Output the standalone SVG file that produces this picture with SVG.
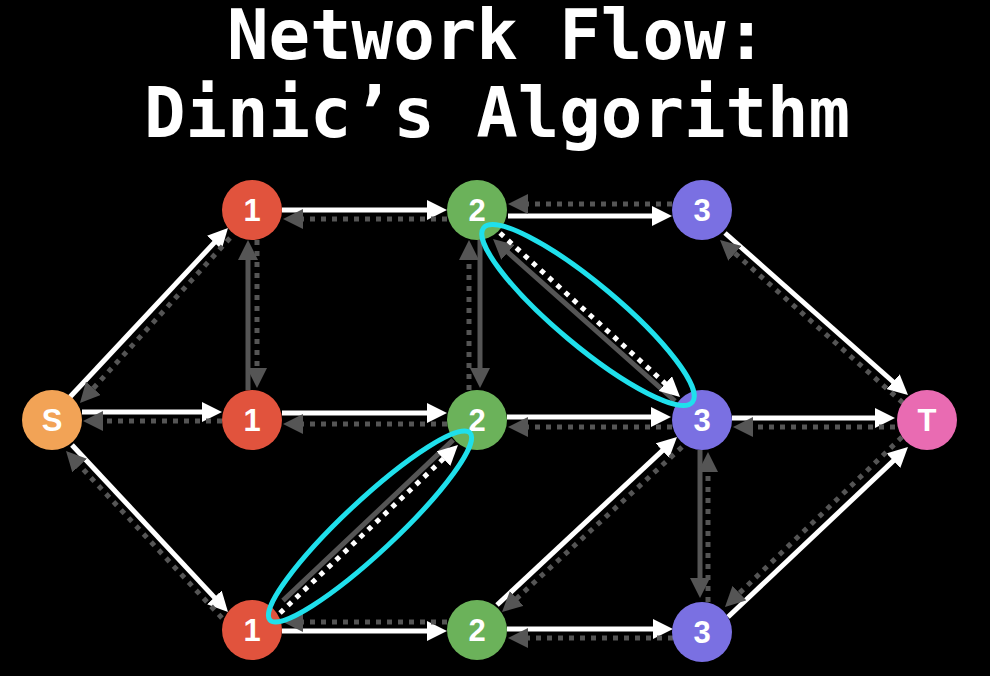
<svg xmlns="http://www.w3.org/2000/svg" width="990" height="676" viewBox="0 0 990 676">
<defs>
<style>
.title{font-family:"DejaVu Sans Mono","Liberation Mono",monospace;font-weight:bold;font-size:69px;fill:#fff;text-anchor:middle}
.lbl{font-family:"Liberation Sans",Arial,sans-serif;font-weight:bold;font-size:31px;fill:#fff;text-anchor:middle}
.w{stroke:#fff;stroke-width:5;fill:none;marker-end:url(#aw)}
.wd{stroke:#fff;stroke-width:5;fill:none;stroke-dasharray:5 6;marker-end:url(#aw)}
.g{stroke:#555;stroke-width:5;fill:none;marker-end:url(#ag)}
.gs{stroke:#555;stroke-width:5;fill:none}
.gd{stroke:#555;stroke-width:5;fill:none;stroke-dasharray:5 6;marker-end:url(#ag)}
.hl{fill:none;stroke:#1FE0EC;stroke-width:5}
</style>
<marker id="aw" markerUnits="userSpaceOnUse" viewBox="0 0 20 20" markerWidth="20" markerHeight="20" refX="14" refY="10" orient="auto"><path d="M0,0 L20,10 L0,20 z" fill="#fff"/></marker>
<marker id="ag" markerUnits="userSpaceOnUse" viewBox="0 0 20 20" markerWidth="20" markerHeight="20" refX="14" refY="10" orient="auto"><path d="M0,0 L20,10 L0,20 z" fill="#555"/></marker>
</defs>
<rect width="990" height="676" fill="#000"/>
<text class="title" x="497" y="59">Network Flow:</text>
<text class="title" x="497" y="137">Dinic’s Algorithm</text>
<g id="connectors">
<line class="w" x1="70" y1="397" x2="223.9" y2="232.4"/>
<line class="gd" x1="230" y1="238" x2="84" y2="398.6"/>
<line class="w" x1="82" y1="412" x2="216" y2="412"/>
<line class="gd" x1="222" y1="421" x2="89" y2="421"/>
<line class="w" x1="72" y1="445" x2="223.9" y2="607.6"/>
<line class="gd" x1="222" y1="618" x2="70.1" y2="455.4"/>
<line class="w" x1="282" y1="210" x2="441" y2="210"/>
<line class="gd" x1="447" y1="219" x2="289" y2="219"/>
<line class="w" x1="282" y1="413" x2="441" y2="413"/>
<line class="gd" x1="447" y1="424" x2="289" y2="424"/>
<line class="w" x1="282" y1="631" x2="441" y2="631"/>
<line class="gd" x1="447" y1="622" x2="289" y2="622"/>
<line class="g" x1="248" y1="390" x2="248" y2="246"/>
<line class="gd" x1="257" y1="240" x2="257" y2="382"/>
<line class="g" x1="480" y1="240" x2="480" y2="382"/>
<line class="gd" x1="469" y1="390" x2="469" y2="246"/>
<line class="g" x1="700" y1="450" x2="700" y2="592"/>
<line class="gd" x1="708" y1="602" x2="708" y2="458"/>
<line class="w" x1="508" y1="216" x2="666" y2="216"/>
<line class="gd" x1="672" y1="204" x2="514" y2="204"/>
<line class="w" x1="507" y1="417" x2="665" y2="417"/>
<line class="gd" x1="672" y1="427" x2="514" y2="427"/>
<line class="w" x1="507" y1="629" x2="667" y2="629"/>
<line class="gd" x1="673" y1="638" x2="514" y2="638"/>
<line class="w" x1="725" y1="233" x2="903.5" y2="391"/>
<line class="gd" x1="903" y1="403" x2="724.5" y2="244"/>
<line class="w" x1="732" y1="418" x2="889" y2="418"/>
<line class="gd" x1="895" y1="427" x2="739" y2="427"/>
<line class="w" x1="728" y1="617" x2="903.6" y2="451.1"/>
<line class="gd" x1="902" y1="437" x2="729.3" y2="602.8"/>
<line class="w" x1="497" y1="605" x2="672.6" y2="441.1"/>
<line class="gd" x1="682" y1="447" x2="506.4" y2="607.9"/>
<line class="gs" x1="453.2" y1="439.9" x2="283" y2="600.6"/>
<line class="wd" x1="280" y1="613" x2="453.6" y2="449.1"/>
<line class="g" x1="675" y1="401" x2="497.5" y2="243"/>
<line class="wd" x1="500" y1="233" x2="675.6" y2="393"/>
</g>
<g id="node-S"><circle cx="52" cy="420" r="30" fill="#F2A356"/><text class="lbl" x="52" y="431">S</text></g>
<g id="node-1a"><circle cx="252" cy="210" r="30" fill="#E1533D"/><text class="lbl" x="252" y="221">1</text></g>
<g id="node-1b"><circle cx="252" cy="420" r="30" fill="#E1533D"/><text class="lbl" x="252" y="431">1</text></g>
<g id="node-1c"><circle cx="252" cy="630" r="30" fill="#E1533D"/><text class="lbl" x="252" y="641">1</text></g>
<g id="node-2a"><circle cx="477" cy="210" r="30" fill="#6BB25A"/><text class="lbl" x="477" y="221">2</text></g>
<g id="node-2b"><circle cx="477" cy="420" r="30" fill="#6BB25A"/><text class="lbl" x="477" y="431">2</text></g>
<g id="node-2c"><circle cx="477" cy="630" r="30" fill="#6BB25A"/><text class="lbl" x="477" y="641">2</text></g>
<g id="node-3a"><circle cx="702" cy="210" r="30" fill="#7A70E2"/><text class="lbl" x="702" y="221">3</text></g>
<g id="node-3b"><circle cx="702" cy="420" r="30" fill="#7A70E2"/><text class="lbl" x="702" y="431">3</text></g>
<g id="node-3c"><circle cx="702" cy="632" r="30" fill="#7A70E2"/><text class="lbl" x="702" y="643">3</text></g>
<g id="node-T"><circle cx="927" cy="420" r="30" fill="#E96BB2"/><text class="lbl" x="927" y="431">T</text></g>
<g id="highlights">
<ellipse class="hl" cx="588" cy="315" rx="136" ry="31" transform="rotate(39.9 588 315)"/>
<ellipse class="hl" cx="370" cy="526.5" rx="137" ry="26" transform="rotate(-43.1 370 526.5)"/>
</g>
</svg>
